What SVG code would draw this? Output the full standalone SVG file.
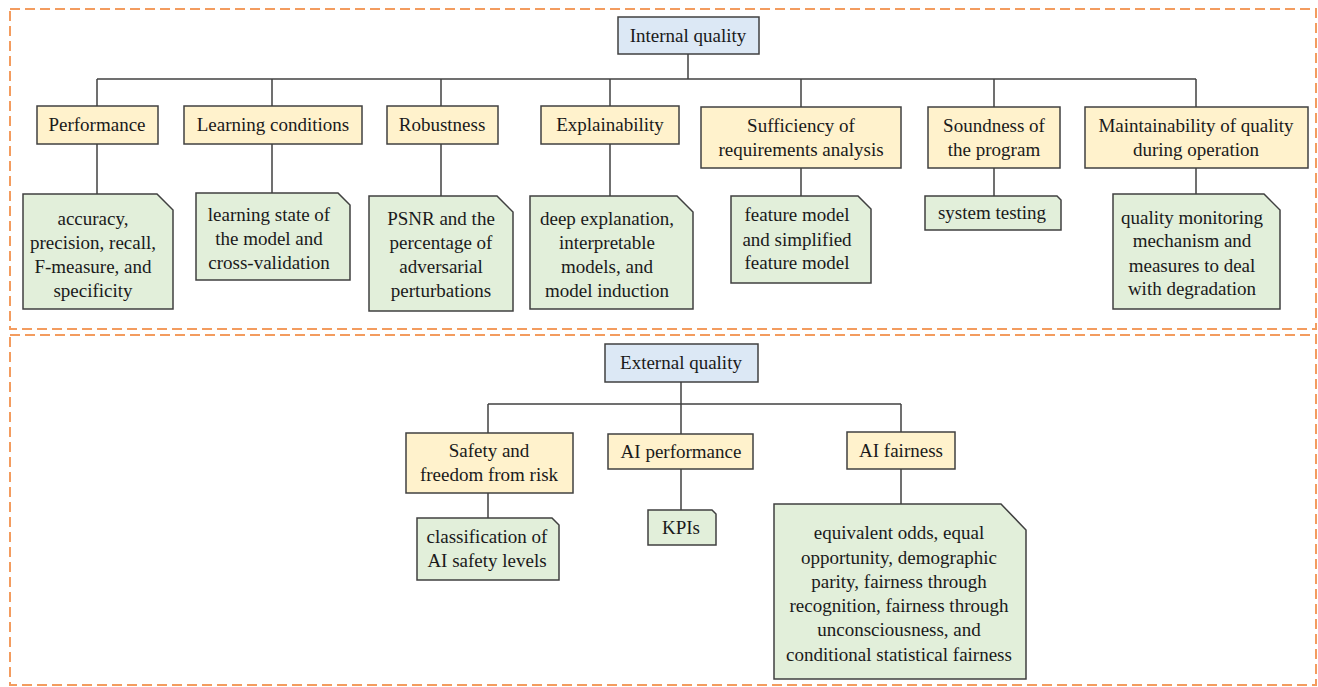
<svg xmlns="http://www.w3.org/2000/svg" width="1318" height="687" viewBox="0 0 1318 687" font-family="'Liberation Serif', 'DejaVu Serif', serif">
<style>
.frame{fill:none;stroke:#f39c5f;stroke-width:2;stroke-dasharray:10 5}
.root{fill:#dce8f5;stroke:#404040;stroke-width:1.5}
.cat{fill:#fff2cc;stroke:#404040;stroke-width:1.5}
.note{fill:#e2efda;stroke:#404040;stroke-width:1.5}
.conn line{stroke:#404040;stroke-width:1.5}
text{font-family:'Liberation Serif','DejaVu Serif',serif;font-size:19px;fill:#1a1a1a;text-anchor:middle}
</style>
<rect class="frame" x="10" y="9" width="1306" height="320"/>
<rect class="frame" x="10" y="335" width="1306" height="350"/>
<g class="conn" id="connectors">
<line x1="688" y1="54" x2="688" y2="79"/>
<line x1="97" y1="79" x2="1196" y2="79"/>
<line x1="97" y1="79" x2="97" y2="106"/>
<line x1="272" y1="79" x2="272" y2="106"/>
<line x1="441" y1="79" x2="441" y2="106"/>
<line x1="610" y1="79" x2="610" y2="106"/>
<line x1="801" y1="79" x2="801" y2="107"/>
<line x1="994" y1="79" x2="994" y2="107"/>
<line x1="1196" y1="79" x2="1196" y2="107"/>
<line x1="97" y1="144" x2="97" y2="194"/>
<line x1="272" y1="144" x2="272" y2="193"/>
<line x1="441" y1="144" x2="441" y2="196"/>
<line x1="610" y1="144" x2="610" y2="196"/>
<line x1="801" y1="168" x2="801" y2="196"/>
<line x1="994" y1="168" x2="994" y2="196"/>
<line x1="1196" y1="168" x2="1196" y2="194"/>
<line x1="681" y1="382" x2="681" y2="434"/>
<line x1="488" y1="404" x2="901" y2="404"/>
<line x1="488" y1="404" x2="488" y2="433"/>
<line x1="901" y1="404" x2="901" y2="432"/>
<line x1="488" y1="493" x2="488" y2="518"/>
<line x1="681" y1="469" x2="681" y2="510"/>
<line x1="901" y1="469" x2="901" y2="504"/>
</g>
<g id="internal-quality"><rect class="root" x="618" y="17" width="141" height="37"/><text x="688" y="42">Internal quality</text></g>
<g id="performance"><rect class="cat" x="37" y="106" width="121" height="38"/><text x="97" y="131">Performance</text></g>
<g id="learning-conditions"><rect class="cat" x="184" y="106" width="178" height="38"/><text x="273" y="131">Learning conditions</text></g>
<g id="robustness"><rect class="cat" x="387" y="106" width="111" height="38"/><text x="442" y="131">Robustness</text></g>
<g id="explainability"><rect class="cat" x="541" y="106" width="138" height="38"/><text x="610" y="131">Explainability</text></g>
<g id="sufficiency"><rect class="cat" x="701" y="107" width="200" height="61"/><text x="801" y="132">Sufficiency of</text><text x="801" y="156">requirements analysis</text></g>
<g id="soundness"><rect class="cat" x="928" y="107" width="132" height="61"/><text x="994" y="132">Soundness of</text><text x="994" y="156">the program</text></g>
<g id="maintainability"><rect class="cat" x="1085" y="107" width="223" height="61"/><text x="1196" y="132">Maintainability of quality</text><text x="1196" y="156">during operation</text></g>
<g id="note-performance"><path class="note" d="M23,194 H157 L173,210 V309 H23 Z"/><text x="93" y="225">accuracy,</text><text x="93" y="249">precision, recall,</text><text x="93" y="273">F-measure, and</text><text x="93" y="297">specificity</text></g>
<g id="note-learning"><path class="note" d="M196,193 H338 L350,205 V280 H196 Z"/><text x="269" y="221">learning state of</text><text x="269" y="245">the model and</text><text x="269" y="269">cross-validation</text></g>
<g id="note-robustness"><path class="note" d="M369,196 H497 L513,212 V311 H369 Z"/><text x="441" y="225">PSNR and the</text><text x="441" y="249">percentage of</text><text x="441" y="273">adversarial</text><text x="441" y="297">perturbations</text></g>
<g id="note-explainability"><path class="note" d="M530,196 H677 L693,212 V309 H530 Z"/><text x="607" y="225">deep explanation,</text><text x="607" y="249">interpretable</text><text x="607" y="273">models, and</text><text x="607" y="297">model induction</text></g>
<g id="note-sufficiency"><path class="note" d="M731,196 H858 L871,209 V283 H731 Z"/><text x="797" y="221">feature model</text><text x="797" y="246">and simplified</text><text x="797" y="269">feature model</text></g>
<g id="note-soundness"><path class="note" d="M925,196 H1057 L1061,200 V230 H925 Z"/><text x="992" y="219">system testing</text></g>
<g id="note-maintainability"><path class="note" d="M1113,194 H1264 L1280,210 V309 H1113 Z"/><text x="1192" y="224">quality monitoring</text><text x="1192" y="247">mechanism and</text><text x="1192" y="272">measures to deal</text><text x="1192" y="295">with degradation</text></g>
<g id="external-quality"><rect class="root" x="605" y="344" width="153" height="38"/><text x="681" y="369">External quality</text></g>
<g id="safety"><rect class="cat" x="406" y="433" width="167" height="60"/><text x="489" y="457">Safety and</text><text x="489" y="481">freedom from risk</text></g>
<g id="ai-performance"><rect class="cat" x="608" y="434" width="145" height="35"/><text x="681" y="458">AI performance</text></g>
<g id="ai-fairness"><rect class="cat" x="847" y="432" width="108" height="37"/><text x="901" y="457">AI fairness</text></g>
<g id="note-safety"><path class="note" d="M417,518 H552 L559,525 V580 H417 Z"/><text x="487" y="543">classification of</text><text x="487" y="567">AI safety levels</text></g>
<g id="note-ai-performance"><path class="note" d="M648,510 H712 L716,514 V545 H648 Z"/><text x="681" y="534">KPIs</text></g>
<g id="note-ai-fairness"><path class="note" d="M774,504 H1001 L1026,530 V679 H774 Z"/><text x="899" y="539">equivalent odds, equal</text><text x="899" y="564">opportunity, demographic</text><text x="899" y="588">parity, fairness through</text><text x="899" y="612">recognition, fairness through</text><text x="899" y="636">unconsciousness, and</text><text x="899" y="661">conditional statistical fairness</text></g>
</svg>
